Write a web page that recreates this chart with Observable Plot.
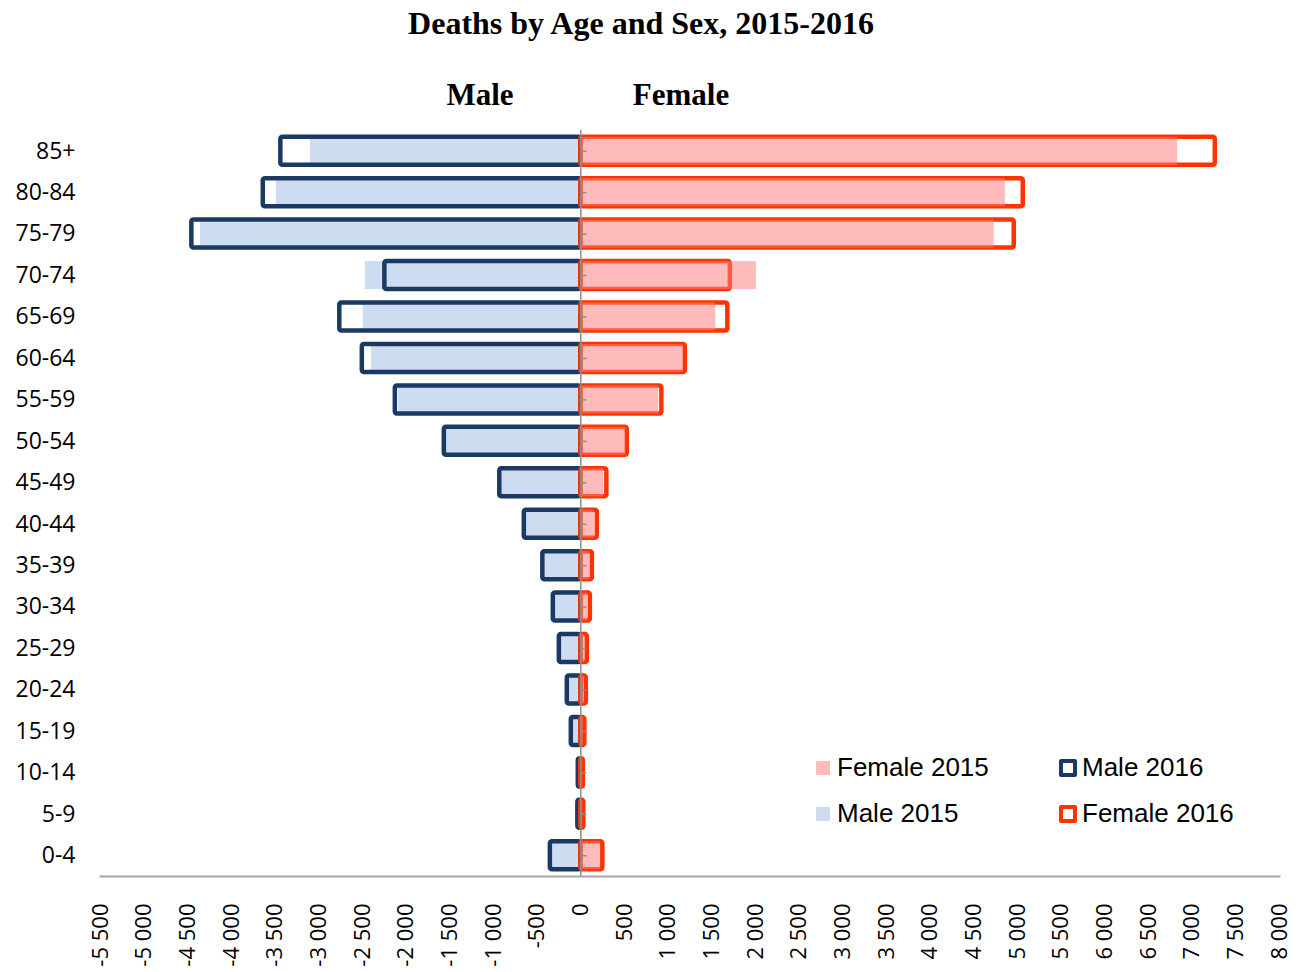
<!DOCTYPE html>
<html>
<head>
<meta charset="utf-8">
<script src="https://cdn.jsdelivr.net/npm/d3@7"></script>
<script src="https://cdn.jsdelivr.net/npm/@observablehq/plot@0.6"></script>
<style>
  html, body { margin: 0; padding: 0; background: #fff; }
  #wrap { position: relative; width: 1302px; height: 972px; overflow: hidden; }
  .abs { position: absolute; white-space: nowrap; }
  #title { left: 0; width: 1282px; top: 7px; text-align: center; font: bold 32px/32px "Liberation Serif", "Times New Roman", serif; color: #000; }
  .hdr { width: 200px; top: 79px; text-align: center; font: bold 31px/31px "Liberation Serif", "Times New Roman", serif; color: #000; }
  .lg { font: 26px/26px "Liberation Sans", Arial, sans-serif; color: #000; }
  .sw { position: absolute; box-sizing: border-box; }
  #chart { position: absolute; left: 0; top: 56px; }
</style>
</head>
<body>
<div id="wrap">
  <div id="title" class="abs">Deaths by Age and Sex, 2015-2016</div>
  <div class="abs hdr" style="left:380px">Male</div>
  <div class="abs hdr" style="left:581px">Female</div>
  <div id="chart"></div>
  <div id="legend"></div>
</div>
<script>
// ---- data ----
const ages = ["85+", "80-84", "75-79", "70-74", "65-69", "60-64", "55-59", "50-54", "45-49",
  "40-44", "35-39", "30-34", "25-29", "20-24", "15-19", "10-14", "5-9", "0-4"];
const male2015 = [-3097, -3487, -4357, -2468, -2491, -2399, -2086, -1540, -915,
  -630, -420, -300, -230, -140, -95, -20, -25, -335];
const male2016 = [-3435, -3636, -4454, -2244, -2760, -2502, -2124, -1563, -928,
  -647, -435, -315, -246, -155, -109, -29, -34, -349];
const female2015 = [6834, 4861, 4733, 2010, 1545, 1174, 893, 515, 261,
  155, 101, 78, 48, 40, 28, 15, 20, 223];
const female2016 = [7265, 5066, 4963, 1712, 1683, 1197, 928, 532, 298,
  189, 132, 109, 74, 63, 46, 29, 34, 252];
const xTicks = [-5500, -5000, -4500, -4000, -3500, -3000, -2500, -2000, -1500, -1000, -500,
  0, 500, 1000, 1500, 2000, 2500, 3000, 3500, 4000, 4500, 5000, 5500, 6000, 6500, 7000, 7500, 8000];
const seriesNames = ["Female 2015", "Male 2015", "Male 2016", "Female 2016"];

// ---- styles ----
const colors = {
  male2015: "#cddcf1",
  male2016: "#1a3a63",
  female2015: "#ffbbbb",
  female2015Overlay: "#ff7f7f",
  female2016: "#ff3300",
  axis: "#8c8c8c"
};

const rows = ages.map((age, i) => ({
  age, m15: male2015[i], m16: male2016[i], f15: female2015[i], f16: female2016[i]
}));

const fmt = d3.formatLocale({decimal: ".", thousands: " ", grouping: [3], currency: ["", ""], minus: "-"}).format(",");
const tickLenUnits = 70;

const plot = Plot.plot({
  width: 1302,
  height: 916,
  marginLeft: 100,
  marginRight: 23,
  marginTop: 74,
  marginBottom: 96,
  style: {fontFamily: "'Open Sans', sans-serif", fontSize: "23px", color: "#000", background: "transparent"},
  x: {domain: [-5500, 8000], label: null},
  y: {domain: ages, paddingInner: 0.324, paddingOuter: 0.162, round: false, label: null},
  marks: [
    Plot.barX(rows, {y: "age", x1: 0, x2: "m15", fill: colors.male2015}),
    Plot.barX(rows, {y: "age", x1: 0, x2: "m16", fill: "none", stroke: colors.male2016, strokeWidth: 4.5, rx: 2}),
    Plot.barX(rows, {y: "age", x1: 0, x2: "f16", fill: "none", stroke: colors.female2016, strokeWidth: 4.5, rx: 2}),
    Plot.barX(rows, {y: "age", x1: 0, x2: "f15", fill: colors.female2015Overlay, fillOpacity: 0.53}),
    Plot.ruleX([0], {stroke: colors.axis, strokeWidth: 1.5}),
    Plot.ruleY(ages, {y: d => d, x1: 0, x2: tickLenUnits, stroke: colors.axis, strokeWidth: 1.5}),
    Plot.frame({anchor: "bottom", stroke: "#a6a6a6", strokeWidth: 2}),
    Plot.axisY({tickSize: 0, tickPadding: 25, fontSize: 23, label: null}),
    Plot.axisX({ticks: xTicks, tickFormat: fmt, tickRotate: -90, tickSize: 0, tickPadding: 27, fontSize: 22, label: null})
  ]
});
document.getElementById("chart").appendChild(plot);

// ---- legend ----
const legendItems = [
  {name: seriesNames[0], kind: "fill", color: colors.female2015, sx: 816, sy: 761, tx: 837, ty: 754},
  {name: seriesNames[1], kind: "fill", color: colors.male2015, sx: 816, sy: 807, tx: 837, ty: 800},
  {name: seriesNames[2], kind: "outline", color: colors.male2016, sx: 1059, sy: 759, tx: 1082, ty: 754},
  {name: seriesNames[3], kind: "outline", color: colors.female2016, sx: 1059, sy: 805, tx: 1082, ty: 800}
];
const lg = document.getElementById("legend");
for (const it of legendItems) {
  const sw = document.createElement("div");
  sw.className = "sw";
  if (it.kind === "fill") {
    sw.style.cssText = `left:${it.sx}px;top:${it.sy}px;width:14px;height:14px;background:${it.color};`;
  } else {
    sw.style.cssText = `left:${it.sx}px;top:${it.sy}px;width:18px;height:18px;border:4.5px solid ${it.color};border-radius:2px;background:#fff;`;
  }
  lg.appendChild(sw);
  const t = document.createElement("div");
  t.className = "abs lg";
  t.style.left = it.tx + "px";
  t.style.top = it.ty + "px";
  t.textContent = it.name;
  lg.appendChild(t);
}
</script>
</body>
</html>
